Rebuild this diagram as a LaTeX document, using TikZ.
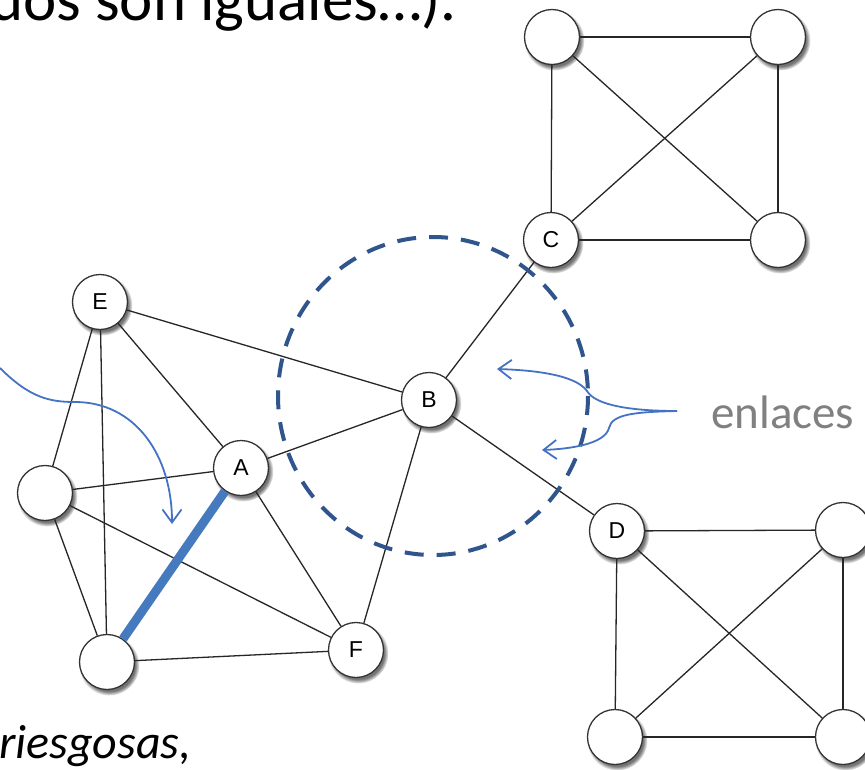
\documentclass[tikz,border=0pt]{standalone}
\usepackage{fontspec}
\setmainfont{Carlito}
\newfontfamily\lblfont{Liberation Sans}
\usetikzlibrary{shadows,arrows.meta,backgrounds}
\definecolor{linkblue}{RGB}{68,114,196}
\definecolor{dashblue}{RGB}{47,85,140}
\definecolor{thickblue}{RGB}{70,122,190}
\definecolor{txtgray}{RGB}{128,128,128}
\begin{document}
\begin{tikzpicture}[x=1pt,y=-1pt,
  vtx/.style={circle,draw=black!80,line width=1.3pt,fill=white,minimum size=55pt,inner sep=0pt,
    font=\lblfont\fontsize{23}{23}\selectfont,
    circular drop shadow={shadow xshift=2pt,shadow yshift=-3pt,fill=black!55}},
  edge/.style={draw=black!85,line width=1.3pt},
  heavy/.style={draw=thickblue,line width=9pt},
  pointer/.style={draw=linkblue,line width=1.8pt,-{Straight Barb[length=13pt,width=19pt]}},
  bigtext/.style={font=\fontsize{63}{63}\selectfont,inner sep=0pt},
  bodytext/.style={font=\fontsize{48}{48}\selectfont\itshape,inner sep=0pt},
  labeltext/.style={font=\fontsize{47}{47}\selectfont,text=txtgray,inner sep=0pt}]
\useasboundingbox (0,0) rectangle (865,769);
\clip (0,0) rectangle (865,769);
\fill[white] (0,0) rectangle (865,769);

% texts
\node[bigtext,anchor=base west] (title) at (-10,20) {dos son iguales…).};
\node[bodytext,anchor=base west] (body) at (-1,758) {riesgosas,};
\node[labeltext,anchor=base west] (enl) at (711,428) {enlaces};

% nodes
\node[vtx] (E) at (100,302) {E};
\node[vtx] (A) at (241,468) {A};
\node[vtx] (L) at (45,493) {};
\node[vtx] (Bt) at (107,662) {};
\node[vtx] (F) at (356,650) {F};
\node[vtx] (B) at (429,400) {B};
\node[vtx] (C) at (551,240) {C};
\node[vtx] (C1) at (552,37) {};
\node[vtx] (C2) at (778,37) {};
\node[vtx] (C3) at (778,240) {};
\node[vtx] (D) at (617,531) {D};
\node[vtx] (D1) at (843,530) {};
\node[vtx] (D2) at (615,737) {};
\node[vtx] (D3) at (843,737) {};

% edges
\draw[edge] (E) -- (B);
\draw[edge] (E) -- (A);
\draw[edge] (E) -- (L);
\draw[edge] (E) -- (Bt);
\draw[edge] (L) -- (A);
\draw[edge] (L) -- (Bt);
\draw[edge] (L) -- (F);
\draw[edge] (A) -- (B);
\draw[edge] (A) -- (F);
\draw[edge] (Bt) -- (F);
\draw[edge] (B) -- (F);
\draw[edge] (B) -- (C);
\draw[edge] (B) -- (D);
\draw[edge] (C1) -- (C2);
\draw[edge] (C1) -- (C);
\draw[edge] (C2) -- (C3);
\draw[edge] (C) -- (C3);
\draw[edge] (C1) -- (C3);
\draw[edge] (C2) -- (C);
\draw[edge] (D) -- (D1);
\draw[edge] (D) -- (D2);
\draw[edge] (D1) -- (D3);
\draw[edge] (D2) -- (D3);
\draw[edge] (D) -- (D3);
\draw[edge] (D1) -- (D2);
\draw[heavy] (Bt) -- (A);

% dashed circle
\draw[dashblue,line width=4pt,dash pattern=on 19pt off 13pt] (433,396) ellipse [x radius=155,y radius=159];

% pointers
\coordinate (s1) at (0,368);
\coordinate (k1) at (75,402);
\coordinate (t1) at (172,524);
\draw[pointer] (s1) .. controls (30,398) and (50,402) .. (k1) .. controls (135,402) and (172,455) .. (t1);

\coordinate (s2) at (677,411);
\coordinate (m2) at (587,391);
\coordinate (t2) at (497,369);
\coordinate (m3) at (609,428);
\coordinate (t3) at (542,450);
\draw[pointer] (s2) .. controls (630,411) and (595,405) .. (m2) .. controls (575,374) and (530,370) .. (t2);
\draw[pointer] (s2) .. controls (635,412) and (612,414) .. (m3) .. controls (605,444) and (570,449) .. (t3);
\end{tikzpicture}
\end{document}
